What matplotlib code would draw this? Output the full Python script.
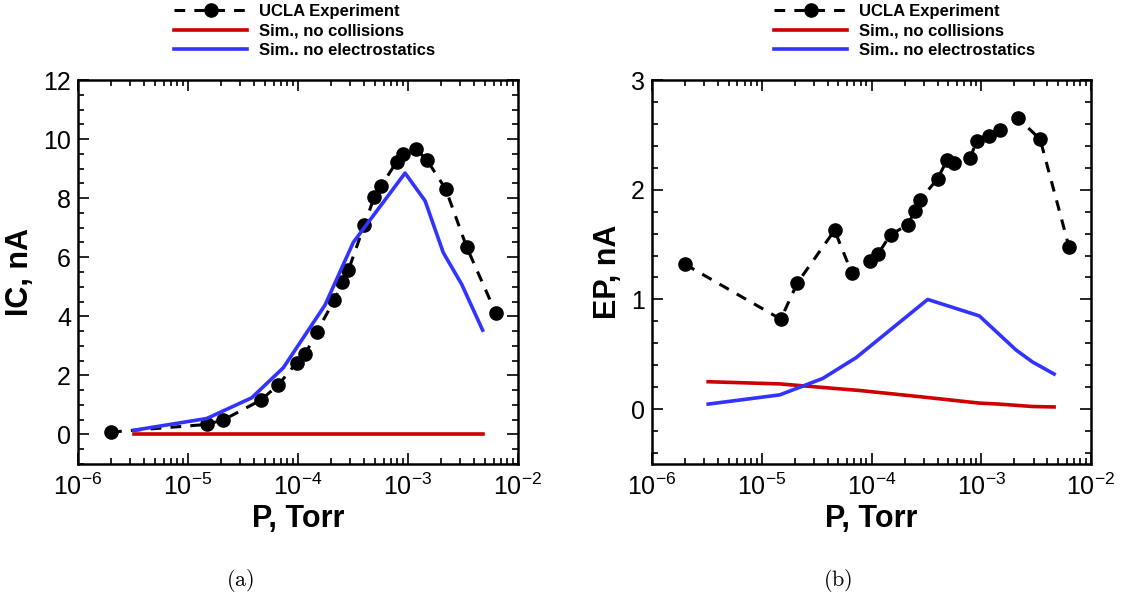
import matplotlib
matplotlib.use('Agg')
import matplotlib.pyplot as plt
from matplotlib.ticker import MultipleLocator, LogLocator, NullFormatter

plt.rcParams['font.family'] = ['Liberation Sans', 'DejaVu Sans']

# (a) ion current
exp_p_a = [2.0e-6, 1.48e-5, 2.09e-5, 4.58e-5, 6.6e-5, 9.7e-5, 1.16e-4, 1.48e-4, 2.14e-4,
           2.53e-4, 2.87e-4, 4.0e-4, 4.94e-4, 5.69e-4, 7.9e-4, 8.95e-4, 1.18e-3, 1.48e-3,
           2.2e-3, 3.41e-3, 6.27e-3]
exp_ic = [0.08, 0.34, 0.49, 1.16, 1.67, 2.43, 2.71, 3.47, 4.55,
          5.16, 5.56, 7.08, 8.04, 8.40, 9.24, 9.49, 9.66, 9.30,
          8.31, 6.35, 4.12]
sim_p_a = [3.2e-6, 1.48e-5, 3.79e-5, 7.36e-5, 1.76e-4, 3.18e-4, 9.4e-4, 1.43e-3, 2.09e-3, 3.08e-3, 4.77e-3]
noes_ic = [0.14, 0.54, 1.24, 2.26, 4.38, 6.50, 8.85, 7.91, 6.16, 5.08, 3.53]
nocoll_p_a = [3.2e-6, 4.77e-3]
nocoll_ic = [0.0, 0.0]

# (b) EP current
exp_p_b = [2.0e-6, 1.49e-5, 2.11e-5, 4.61e-5, 6.62e-5, 9.72e-5, 1.14e-4, 1.49e-4, 2.14e-4,
           2.49e-4, 2.79e-4, 4.0e-4, 4.88e-4, 5.68e-4, 7.9e-4, 9.07e-4, 1.17e-3, 1.48e-3,
           2.17e-3, 3.44e-3, 6.3e-3]
exp_ep = [1.32, 0.82, 1.15, 1.63, 1.24, 1.35, 1.41, 1.59, 1.68,
          1.81, 1.91, 2.10, 2.27, 2.24, 2.29, 2.44, 2.49, 2.54,
          2.65, 2.46, 1.48]
noes_p_b = [3.25e-6, 1.46e-5, 3.6e-5, 7.26e-5, 3.25e-4, 9.6e-4, 2.07e-3, 2.93e-3, 4.61e-3]
noes_ep = [0.046, 0.13, 0.28, 0.47, 1.00, 0.85, 0.54, 0.43, 0.32]
nocoll_p_b = [3.25e-6, 1.46e-5, 7.8e-5, 3.25e-4, 9.6e-4, 1.46e-3, 2.93e-3, 4.61e-3]
nocoll_ep = [0.25, 0.23, 0.17, 0.106, 0.055, 0.046, 0.024, 0.02]

labels = ['UCLA Experiment', 'Sim., no collisions', 'Sim.. no electrostatics']
red = '#cc0000'
blue = '#3333ff'

fig = plt.figure(figsize=(11.23, 5.98), dpi=100)
W, H = 1123, 598
ax1 = fig.add_axes([78 / W, (H - 464) / H, 440 / W, 384 / H])
ax2 = fig.add_axes([652 / W, (H - 464) / H, 439 / W, 384 / H])

panels = [
    (ax1, exp_p_a, exp_ic, nocoll_p_a, nocoll_ic, sim_p_a, noes_ic, 'IC, nA', (-1, 12), 2, 0.5, 174, '(a)', 240),
    (ax2, exp_p_b, exp_ep, nocoll_p_b, nocoll_ep, noes_p_b, noes_ep, 'EP, nA', (-0.5, 3), 1, 0.2, 774, '(b)', 838),
]

for ax, ex, ey, rx, ry, bx, by, ylab, ylim, major, minor, leg_x, cap, cap_x in panels:
    ax.plot(ex, ey, color='black', lw=2.2, ls=(0, (3.5, 3)), marker='o', ms=9.5, label=labels[0])
    ax.plot(rx, ry, color=red, lw=2.6, label=labels[1])
    ax.plot(bx, by, color=blue, lw=2.6, label=labels[2])
    ax.set_xscale('log')
    ax.set_xlim(1e-6, 1e-2)
    ax.set_ylim(*ylim)
    ax.yaxis.set_major_locator(MultipleLocator(major))
    ax.yaxis.set_minor_locator(MultipleLocator(minor))
    ax.xaxis.set_minor_locator(LogLocator(base=10, subs=range(2, 10)))
    ax.xaxis.set_minor_formatter(NullFormatter())
    ax.tick_params(which='both', direction='in', top=True, right=True, labelsize=18, width=1.2)
    ax.tick_params(which='major', length=8)
    ax.tick_params(which='minor', length=4.5)
    ax.tick_params(axis='x', pad=7)
    ax.tick_params(axis='y', pad=5)
    for s in ax.spines.values():
        s.set_linewidth(1.8)
    ax.set_xlabel('P, Torr', fontsize=22, fontweight='bold', labelpad=3)
    ax.set_ylabel(ylab, fontsize=22, fontweight='bold', labelpad=6)
    ax.legend(loc='upper left', bbox_to_anchor=(leg_x / W, 1 - 4 / H), bbox_transform=fig.transFigure,
              frameon=False, borderpad=0, borderaxespad=0, handlelength=4.4, handletextpad=0.72,
              labelspacing=0.26, prop={'weight': 'bold', 'size': 12})
    fig.text(cap_x / W, 1 - 580 / H, r'$\mathrm{' + cap + '}$', ha='center', va='center',
             fontsize=16, math_fontfamily='cm')

plt.savefig('out.png', dpi=100)
